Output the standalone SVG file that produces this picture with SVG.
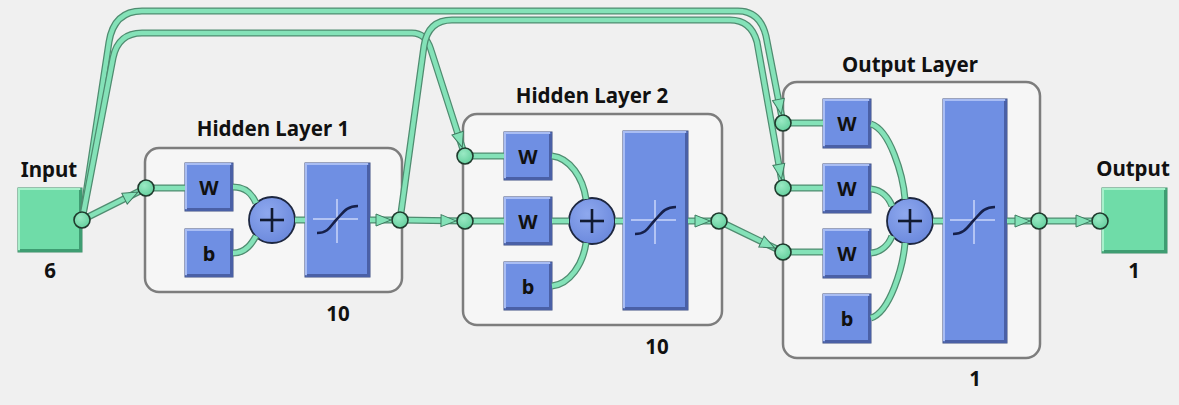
<svg xmlns="http://www.w3.org/2000/svg" xmlns:xlink="http://www.w3.org/1999/xlink" width="1179" height="405" viewBox="0 0 1179 405">
<style>
.bg{fill:#f0f0f0}
.frame{fill:#f6f6f6;stroke:#7d7d7d;stroke-width:2.5}
.blk{fill:#6f8fe3;stroke:#3e4f82;stroke-width:1}
.hi{fill:none;stroke:#a9bdf3;stroke-width:2}
.sh{fill:none;stroke:#4a60a6;stroke-width:3}
.io{fill:#6fdca8;stroke:#3f8d69;stroke-width:1}
.iohi{fill:none;stroke:#a8f0cb;stroke-width:2}
.iosh{fill:none;stroke:#3e9d72;stroke-width:3}
.sum{fill:url(#sg);stroke:#1d2740;stroke-width:1.8}
.plus{stroke:#111a30;stroke-width:2.6}
.sig{fill:none;stroke:#16204a;stroke-width:2.6}
.cross{stroke:#b3c4f4;stroke-width:2}
.eo{fill:none;stroke:#4f8c70;stroke-width:7}
.ei{fill:none;stroke:#84e2b8;stroke-width:4.5}
.arr{marker-end:url(#ah)}
.port{fill:url(#pg);stroke:#1f3a2d;stroke-width:1.6}
.t{font-family:"Noto Sans","Open Sans",sans-serif;font-weight:bold;font-size:20.5px;fill:#111;text-anchor:middle}
.tb{font-family:"Noto Sans","Open Sans",sans-serif;font-weight:bold;font-size:20px;fill:#111;text-anchor:middle}
</style>
<defs>
<radialGradient id="sg" cx="0.4" cy="0.35" r="0.7"><stop offset="0" stop-color="#8ea8ee"/><stop offset="1" stop-color="#6a88dc"/></radialGradient>
<radialGradient id="pg" cx="0.4" cy="0.35" r="0.7"><stop offset="0" stop-color="#9ae9c4"/><stop offset="1" stop-color="#62cf9c"/></radialGradient>
<marker id="ah" markerUnits="userSpaceOnUse" markerWidth="26" markerHeight="14" refX="24" refY="6" orient="auto" overflow="visible">
<polygon points="0,0 15,6 0,12" fill="#84e2b8" stroke="#3f7a60" stroke-width="1"/>
</marker>
<path id="c1" d="M82,220 L146,188"/>
<path id="c2" d="M146,188 L185,188"/>
<path id="c3" d="M233,187 C246,187 252,194 256,203"/>
<path id="c4" d="M233,253 C246,253 252,243 256,236"/>
<path id="c5" d="M295,220 L305,220"/>
<path id="c6" d="M370,220 L400,220"/>
<path id="c7" d="M400,220 L465,221"/>
<path id="c8" d="M465,156 L504,156"/>
<path id="c9" d="M465,221 L504,221"/>
<path id="c10" d="M552,156 C570,158 583,178 586,199"/>
<path id="c11" d="M552,221 L569,221"/>
<path id="c12" d="M552,286 C570,284 583,264 586,243"/>
<path id="c13" d="M615,221 L623,221"/>
<path id="c14" d="M688,221 L719,221"/>
<path id="c15" d="M783,123 L823,123"/>
<path id="c16" d="M783,188 L823,188"/>
<path id="c17" d="M783,252 L823,252"/>
<path id="c18" d="M871,124 C890,130 903,175 905,199"/>
<path id="c19" d="M871,189 C882,190 889,198 892,206"/>
<path id="c20" d="M871,253 C882,252 889,244 892,236"/>
<path id="c21" d="M871,318 C890,312 903,267 905,243"/>
<path id="c22" d="M933,221 L943,221"/>
<path id="c23" d="M1007,221 L1039,221"/>
<path id="c24" d="M1039,221 L1100,221"/>
<path id="c25" d="M82,220 L109,42 Q114,11 142,11 L738,11 Q760,11 766,36 L783,123"/>
<path id="c26" d="M82,220 L113,58 Q118,33 142,33 L412,33 Q426,33 431,50 L465,156"/>
<path id="c27" d="M400,220 L424,46 Q428,20 452,20 L730,20 Q751,20 757,42 L783,188"/>
<path id="c28" d="M719,221 L783,252"/>
</defs>
<rect class="bg" x="0" y="0" width="1179" height="405"/>

<g id="input">
<rect class="io" x="18" y="188" width="64" height="64"/>
<path class="iosh" d="M19.5,250.5 H80.5 V189.5"/>
<path class="iohi" d="M19,250 V189 H80"/>
<text class="t" x="49" y="177">Input</text>
<text class="t" x="50" y="278">6</text>
</g>

<g id="hidden-layer-1">
<rect class="frame" x="145" y="148" width="257" height="144" rx="14"/>
<text class="t" x="273" y="136">Hidden Layer 1</text>
<text class="t" x="338" y="321">10</text>
<g id="hl1-w"><rect class="blk" x="185" y="163" width="48" height="48"/><path class="sh" d="M186.5,209.5 H231.5 V164.5"/><path class="hi" d="M186,209 V164 H231"/><text class="tb" x="209" y="195">W</text></g>
<g id="hl1-b"><rect class="blk" x="185" y="229" width="48" height="48"/><path class="sh" d="M186.5,275.5 H231.5 V230.5"/><path class="hi" d="M186,275 V230 H231"/><text class="tb" x="209" y="261">b</text></g>
<g id="hl1-sum"><circle class="sum" cx="272" cy="220" r="23"/><line class="plus" x1="260" y1="220" x2="284" y2="220"/><line class="plus" x1="272" y1="208" x2="272" y2="232"/></g>
<g id="hl1-tf"><rect class="blk" x="305" y="163" width="65" height="114"/><path class="sh" d="M306.5,275.5 H368.5 V164.5"/><path class="hi" d="M306,275 V164 H368"/>
<line class="cross" x1="337" y1="199" x2="337" y2="243"/><line class="cross" x1="313" y1="219" x2="358" y2="219"/>
<path class="sig" d="M317,233 C329,233 331,225 337,219 C343,213 346,206 358,206"/></g>
</g>

<g id="hidden-layer-2">
<rect class="frame" x="463" y="114" width="259" height="211" rx="14"/>
<text class="t" x="592" y="103">Hidden Layer 2</text>
<text class="t" x="657" y="354">10</text>
<g id="hl2-w1"><rect class="blk" x="504" y="132" width="48" height="48"/><path class="sh" d="M505.5,178.5 H550.5 V133.5"/><path class="hi" d="M505,178 V133 H550"/><text class="tb" x="528" y="164">W</text></g>
<g id="hl2-w2"><rect class="blk" x="504" y="197" width="48" height="48"/><path class="sh" d="M505.5,243.5 H550.5 V198.5"/><path class="hi" d="M505,243 V198 H550"/><text class="tb" x="528" y="229">W</text></g>
<g id="hl2-b"><rect class="blk" x="504" y="262" width="48" height="48"/><path class="sh" d="M505.5,308.5 H550.5 V263.5"/><path class="hi" d="M505,308 V263 H550"/><text class="tb" x="528" y="294">b</text></g>
<g id="hl2-sum"><circle class="sum" cx="592" cy="221" r="23"/><line class="plus" x1="580" y1="221" x2="604" y2="221"/><line class="plus" x1="592" y1="209" x2="592" y2="233"/></g>
<g id="hl2-tf"><rect class="blk" x="623" y="131" width="65" height="179"/><path class="sh" d="M624.5,308.5 H686.5 V132.5"/><path class="hi" d="M624,308 V132 H686"/>
<line class="cross" x1="655" y1="200" x2="655" y2="244"/><line class="cross" x1="631" y1="220" x2="676" y2="220"/>
<path class="sig" d="M635,234 C647,234 649,226 655,220 C661,214 664,207 676,207"/></g>
</g>

<g id="output-layer">
<rect class="frame" x="783" y="82" width="257" height="276" rx="14"/>
<text class="t" x="910" y="72">Output Layer</text>
<text class="t" x="975" y="386">1</text>
<g id="ol-w1"><rect class="blk" x="823" y="99" width="48" height="49"/><path class="sh" d="M824.5,146.5 H869.5 V100.5"/><path class="hi" d="M824,146 V100 H869"/><text class="tb" x="847" y="131">W</text></g>
<g id="ol-w2"><rect class="blk" x="823" y="164" width="48" height="49"/><path class="sh" d="M824.5,211.5 H869.5 V165.5"/><path class="hi" d="M824,211 V165 H869"/><text class="tb" x="847" y="196">W</text></g>
<g id="ol-w3"><rect class="blk" x="823" y="229" width="48" height="49"/><path class="sh" d="M824.5,276.5 H869.5 V230.5"/><path class="hi" d="M824,276 V230 H869"/><text class="tb" x="847" y="261">W</text></g>
<g id="ol-b"><rect class="blk" x="823" y="294" width="48" height="49"/><path class="sh" d="M824.5,341.5 H869.5 V295.5"/><path class="hi" d="M824,341 V295 H869"/><text class="tb" x="847" y="326">b</text></g>
<g id="ol-sum"><circle class="sum" cx="910" cy="221" r="23"/><line class="plus" x1="898" y1="221" x2="922" y2="221"/><line class="plus" x1="910" y1="209" x2="910" y2="233"/></g>
<g id="ol-tf"><rect class="blk" x="943" y="99" width="64" height="244"/><path class="sh" d="M944.5,341.5 H1005.5 V100.5"/><path class="hi" d="M944,341 V100 H1005"/>
<line class="cross" x1="974" y1="200" x2="974" y2="244"/><line class="cross" x1="950" y1="220" x2="995" y2="220"/>
<path class="sig" d="M953,234 C965,234 968,226 974,220 C980,214 983,207 995,207"/></g>
</g>

<g id="output">
<rect class="io" x="1102" y="188" width="65" height="65"/>
<path class="iosh" d="M1103.5,251.5 H1165.5 V189.5"/>
<path class="iohi" d="M1103,251 V189 H1165"/>
<text class="t" x="1133" y="176">Output</text>
<text class="t" x="1134" y="278">1</text>
</g>

<g id="connectors">
<use href="#c1" class="eo"/><use href="#c1" class="ei arr"/>
<use href="#c2" class="eo"/><use href="#c2" class="ei"/>
<use href="#c3" class="eo"/><use href="#c3" class="ei"/>
<use href="#c4" class="eo"/><use href="#c4" class="ei"/>
<use href="#c5" class="eo"/><use href="#c5" class="ei"/>
<use href="#c6" class="eo"/><use href="#c6" class="ei arr"/>
<use href="#c7" class="eo"/><use href="#c7" class="ei arr"/>
<use href="#c8" class="eo"/><use href="#c8" class="ei"/>
<use href="#c9" class="eo"/><use href="#c9" class="ei"/>
<use href="#c10" class="eo"/><use href="#c10" class="ei"/>
<use href="#c11" class="eo"/><use href="#c11" class="ei"/>
<use href="#c12" class="eo"/><use href="#c12" class="ei"/>
<use href="#c13" class="eo"/><use href="#c13" class="ei"/>
<use href="#c14" class="eo"/><use href="#c14" class="ei arr"/>
<use href="#c15" class="eo"/><use href="#c15" class="ei"/>
<use href="#c16" class="eo"/><use href="#c16" class="ei"/>
<use href="#c17" class="eo"/><use href="#c17" class="ei"/>
<use href="#c18" class="eo"/><use href="#c18" class="ei"/>
<use href="#c19" class="eo"/><use href="#c19" class="ei"/>
<use href="#c20" class="eo"/><use href="#c20" class="ei"/>
<use href="#c21" class="eo"/><use href="#c21" class="ei"/>
<use href="#c22" class="eo"/><use href="#c22" class="ei"/>
<use href="#c23" class="eo"/><use href="#c23" class="ei arr"/>
<use href="#c24" class="eo"/><use href="#c24" class="ei arr"/>
<use href="#c25" class="eo"/><use href="#c25" class="ei arr"/>
<use href="#c26" class="eo"/><use href="#c26" class="ei arr"/>
<use href="#c27" class="eo"/><use href="#c27" class="ei arr"/>
<use href="#c28" class="eo"/><use href="#c28" class="ei arr"/>
</g>

<g id="ports">
<circle class="port" cx="82" cy="220" r="8"/>
<circle class="port" cx="146" cy="188" r="8"/>
<circle class="port" cx="400" cy="220" r="8"/>
<circle class="port" cx="465" cy="156" r="8"/>
<circle class="port" cx="465" cy="221" r="8"/>
<circle class="port" cx="719" cy="221" r="8"/>
<circle class="port" cx="783" cy="123" r="8"/>
<circle class="port" cx="783" cy="188" r="8"/>
<circle class="port" cx="783" cy="252" r="8"/>
<circle class="port" cx="1039" cy="221" r="8"/>
<circle class="port" cx="1100" cy="221" r="8"/>
</g>
</svg>
